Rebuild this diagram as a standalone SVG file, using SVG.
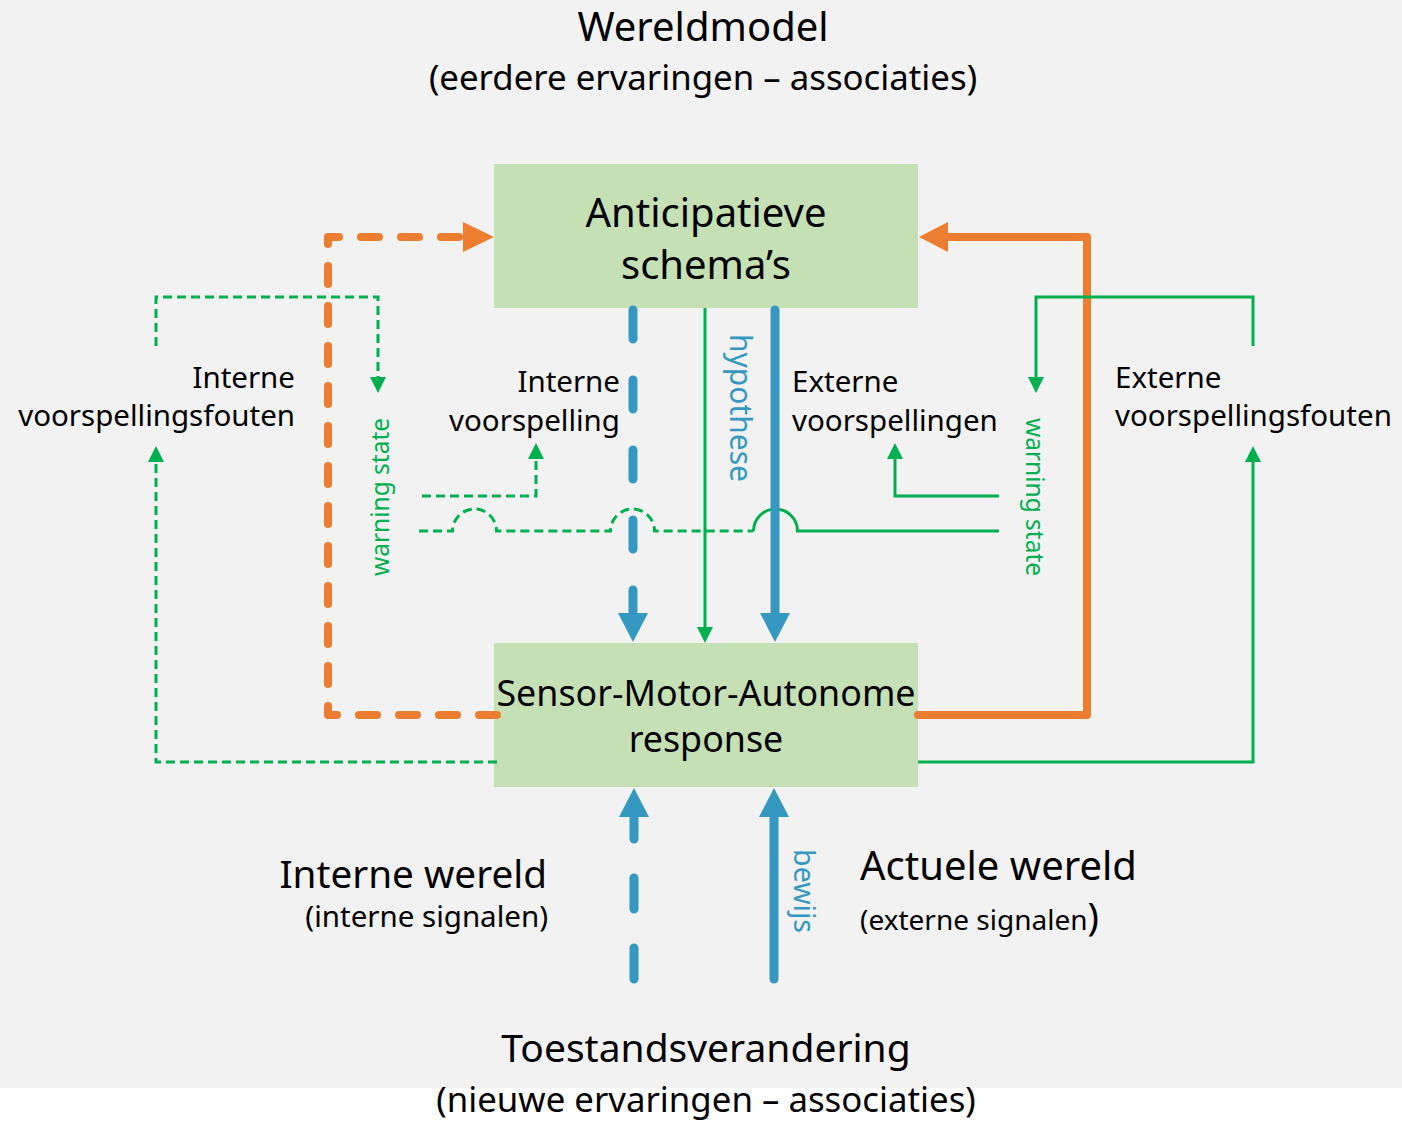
<svg xmlns="http://www.w3.org/2000/svg" width="1402" height="1121" viewBox="0 0 1402 1121">
<defs>
<style>
.t{font-family:"Noto Sans","Open Sans","DejaVu Sans",sans-serif;fill:#000}
.g{fill:#00b050}
.b{fill:#3598c0}
.box{fill:#c5e0b4}
.og{fill:none;stroke:#ed7d31;stroke-width:8;stroke-linejoin:round;stroke-linecap:round}
.gs{fill:none;stroke:#00b050;stroke-width:3}
.gd{fill:none;stroke:#00b050;stroke-width:3;stroke-dasharray:9 5}
.bl{fill:none;stroke:#3598c0;stroke-width:9;stroke-linecap:round}
</style>
</defs>
<rect x="0" y="0" width="1402" height="1088" fill="#f2f2f2"/>
<rect x="0" y="1088" width="1402" height="33" fill="#ffffff"/>

<g id="title">
<text class="t" x="703" y="41" font-size="40" text-anchor="middle">Wereldmodel</text>
<text class="t" x="703" y="90" font-size="34.8" text-anchor="middle">(eerdere ervaringen – associaties)</text>
</g>

<g id="anticipatieve">
<rect class="box" x="494" y="164" width="424" height="144"/>
<text class="t" x="706" y="227" font-size="40" text-anchor="middle">Anticipatieve</text>
<text class="t" x="706" y="279" font-size="40" text-anchor="middle">schema’s</text>
</g>

<g id="sensor">
<rect class="box" x="494" y="643" width="424" height="144"/>
<text class="t" x="706" y="706" font-size="35.8" text-anchor="middle">Sensor-Motor-Autonome</text>
<text class="t" x="706" y="752" font-size="35.8" text-anchor="middle">response</text>
</g>

<g id="connectors">
<path class="og" d="M497 715 H328 V237 H462" stroke-dasharray="18 22"/>
<polygon points="463,222 494,237 463,252" fill="#ed7d31"/>
<path class="og" d="M918 715 H1087 V237 H947"/>
<polygon points="948,222 919,237 948,252" fill="#ed7d31"/>

<path class="gd" d="M497 762 H156 V460"/>
<polygon points="148,462 156,446 164,462" fill="#00b050"/>
<path class="gd" d="M156 346 V297 H378 V379"/>
<polygon points="370,377 378,393 386,377" fill="#00b050"/>
<path class="gd" d="M422 496 H536 V457"/>
<polygon points="528,459 536,443 544,459" fill="#00b050"/>
<path class="gd" d="M419 531 H452.5 A22 22 0 0 1 496.5 531 H610.5 A22 22 0 0 1 654.5 531 H753.5"/>

<path class="gs" d="M753.5 531 A22 22 0 0 1 797.5 531 H999"/>
<path class="gs" d="M999 496 H895 V457"/>
<polygon points="887,459 895,443 903,459" fill="#00b050"/>
<path class="gs" d="M1253 346 V297 H1036 V379"/>
<polygon points="1028,377 1036,393 1044,377" fill="#00b050"/>
<path class="gs" d="M918 762 H1253 V460"/>
<polygon points="1245,462 1253,446 1261,462" fill="#00b050"/>

<path class="gs" d="M705 308 V629"/>
<polygon points="697,627 713,627 705,643" fill="#00b050"/>

<path class="bl" d="M633 310 V612" stroke-dasharray="29 41"/>
<polygon points="618,613 648,613 633,642" fill="#3598c0"/>
<path class="bl" d="M775 310 V614" stroke-linecap="butt"/>
<polygon points="760,613 790,613 775,642" fill="#3598c0"/>

<path class="bl" d="M634 979 V818" stroke-dasharray="31 39"/>
<polygon points="619,817 649,817 634,788" fill="#3598c0"/>
<path class="bl" d="M774 979 V815"/>
<polygon points="759,817 789,817 774,788" fill="#3598c0"/>
</g>

<g id="labels">
<text class="t" x="295" y="388" font-size="29.5" text-anchor="end">Interne</text>
<text class="t" x="295" y="426" font-size="29.5" text-anchor="end">voorspellingsfouten</text>
<text class="t" x="620" y="392" font-size="29.5" text-anchor="end">Interne</text>
<text class="t" x="620" y="431" font-size="29.5" text-anchor="end">voorspelling</text>
<text class="t" x="792" y="392" font-size="29.5">Externe</text>
<text class="t" x="792" y="431" font-size="29.5">voorspellingen</text>
<text class="t" x="1115" y="388" font-size="29.5">Externe</text>
<text class="t" x="1115" y="426" font-size="29.5">voorspellingsfouten</text>

<text class="t g" font-size="24.5" text-anchor="middle" transform="translate(389 497) rotate(-90)">warning state</text>
<text class="t g" font-size="24.5" text-anchor="middle" transform="translate(1026 497) rotate(90)">warning state</text>
<text class="t b" font-size="30" text-anchor="middle" transform="translate(730 408) rotate(90)">hypothese</text>
<text class="t b" font-size="28.5" text-anchor="middle" transform="translate(794 891) rotate(90)">bewijs</text>

<text class="t" x="547" y="888" font-size="38.7" text-anchor="end">Interne wereld</text>
<text class="t" x="548" y="927" font-size="29.5" text-anchor="end">(interne signalen)</text>
<text class="t" x="860" y="880" font-size="40">Actuele wereld</text>
<text class="t" x="860" y="930" font-size="28">(externe signalen<tspan font-size="38">)</tspan></text>

<text class="t" x="706" y="1062" font-size="39" text-anchor="middle">Toestandsverandering</text>
<text class="t" x="706" y="1112" font-size="34.8" text-anchor="middle">(nieuwe ervaringen – associaties)</text>
</g>
</svg>
